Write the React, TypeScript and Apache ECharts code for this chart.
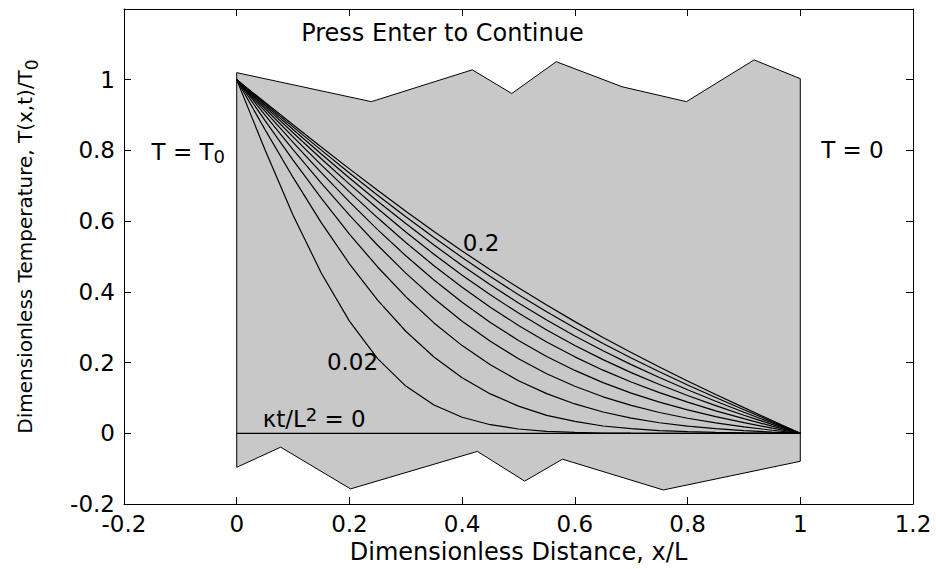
import React, { useEffect, useRef } from "react";
import * as echarts from "echarts";

// Dimensionless distance x/L sample positions
const xPositions = [0, 0.05, 0.1, 0.15, 0.2, 0.25, 0.3, 0.35, 0.4, 0.45, 0.5, 0.55, 0.6, 0.65, 0.7, 0.75, 0.8, 0.85, 0.9, 0.95, 1];

// Time labels kt/L^2 for each profile
const timeValues = ["0", "0.02", "0.04", "0.06", "0.08", "0.1", "0.12", "0.14", "0.16", "0.18", "0.2"];

// Temperature profiles T(x,t)/T0
const curveT000 = [0, 0, 0, 0, 0, 0, 0, 0, 0, 0, 0, 0, 0, 0, 0, 0, 0, 0, 0, 0, 0];
const curveT002 = [1, 0.8026, 0.617, 0.4536, 0.3173, 0.2113, 0.1337, 0.0801, 0.0455, 0.0245, 0.0124, 0.0059, 0.0027, 0.0011, 0.0005, 0.0002, 0.0001, 0, 0, 0, 0];
const curveT004 = [1, 0.8597, 0.7237, 0.5959, 0.4795, 0.3768, 0.2888, 0.2159, 0.1573, 0.1116, 0.0771, 0.0509, 0.0339, 0.0208, 0.0133, 0.008, 0.0047, 0.0026, 0.0014, 0.0006, 0];
const curveT006 = [1, 0.8853, 0.7728, 0.665, 0.5637, 0.4705, 0.3865, 0.3123, 0.2482, 0.1939, 0.1489, 0.1123, 0.0832, 0.0605, 0.0431, 0.0301, 0.0204, 0.0132, 0.0079, 0.0037, 0];
const curveT008 = [1, 0.9005, 0.8026, 0.7077, 0.6171, 0.532, 0.4532, 0.3815, 0.3172, 0.2605, 0.2111, 0.1688, 0.1331, 0.1034, 0.079, 0.059, 0.0428, 0.0295, 0.0185, 0.0089, 0];
const curveT010 = [1, 0.911, 0.823, 0.7373, 0.6547, 0.5761, 0.5022, 0.4336, 0.3707, 0.3138, 0.2628, 0.2176, 0.178, 0.1436, 0.1139, 0.0883, 0.0663, 0.0472, 0.0303, 0.0148, 0];
const curveT012 = [1, 0.9187, 0.8382, 0.7593, 0.6829, 0.6095, 0.5398, 0.4742, 0.4131, 0.3568, 0.3052, 0.2585, 0.2164, 0.1787, 0.1451, 0.1151, 0.0882, 0.0638, 0.0415, 0.0204, 0];
const curveT014 = [1, 0.9246, 0.8499, 0.7764, 0.7048, 0.6357, 0.5695, 0.5065, 0.4472, 0.3917, 0.3401, 0.2925, 0.2487, 0.2086, 0.1719, 0.1382, 0.1072, 0.0784, 0.0513, 0.0254, 0];
const curveT016 = [1, 0.9293, 0.8591, 0.79, 0.7223, 0.6566, 0.5933, 0.5326, 0.4748, 0.4202, 0.3688, 0.3206, 0.2755, 0.2335, 0.1944, 0.1578, 0.1234, 0.0909, 0.0598, 0.0297, 0];
const curveT018 = [1, 0.9331, 0.8666, 0.8009, 0.7364, 0.6736, 0.6126, 0.5538, 0.4974, 0.4435, 0.3923, 0.3437, 0.2977, 0.2542, 0.2131, 0.1741, 0.1369, 0.1013, 0.0669, 0.0332, 0];
const curveT020 = [1, 0.9361, 0.8726, 0.8098, 0.7479, 0.6874, 0.6283, 0.5711, 0.5158, 0.4626, 0.4116, 0.3627, 0.316, 0.2713, 0.2286, 0.1876, 0.1481, 0.1099, 0.0728, 0.0362, 0];

const curves = [curveT000, curveT002, curveT004, curveT006, curveT008, curveT010, curveT012, curveT014, curveT016, curveT018, curveT020];

// Gray slab outline (jagged top and bottom edges)
const slabX = [0, 0.239, 0.418, 0.488, 0.567, 0.684, 0.798, 0.918, 1, 1, 0.757, 0.578, 0.511, 0.427, 0.202, 0.078, 0];
const slabY = [1.02, 0.938, 1.028, 0.961, 1.051, 0.98, 0.938, 1.056, 1.003, -0.079, -0.16, -0.073, -0.135, -0.051, -0.157, -0.039, -0.096];

// Text annotations (data coordinates)
const noteTexts = ["Press Enter to Continue", "T = T{sub|0}", "T = 0", "0.2", "0.02", "κt/L{sup|2} = 0"];
const noteX = [0.365, -0.151, 1.037, 0.401, 0.16, 0.046];
const noteY = [1.132, 0.797, 0.8, 0.539, 0.202, 0.04];

// Axis ticks
const axisMin = -0.2;
const axisMax = 1.2;
const axisStep = 0.2;

const FONT = '"DejaVu Sans", sans-serif';

export default function App() {
  const ref = useRef<HTMLDivElement>(null);

  useEffect(() => {
    const chart = echarts.init(ref.current!, null, { renderer: "svg" });
    const fmt = (v: number) => String(Math.round(v * 10) / 10);
    const line = { show: true, onZero: false, lineStyle: { color: "#000", width: 1 } };
    const tick = { show: true, inside: true, length: 7, lineStyle: { color: "#000", width: 1 } };

    const lineSeries = curves.map((vals, k) => ({
      type: "line",
      name: timeValues[k],
      data: xPositions.map((x, i) => [x, vals[i]]),
      symbol: "none",
      smooth: false,
      lineStyle: { color: "#000", width: 1.2 },
      silent: true,
      z: 2,
    }));

    chart.setOption({
      animation: false,
      backgroundColor: "#fff",
      grid: { left: 124, right: 23, top: 9, bottom: 63, containLabel: false },
      xAxis: [
        {
          type: "value",
          min: axisMin,
          max: axisMax,
          interval: axisStep,
          position: "bottom",
          axisLine: line,
          axisTick: tick,
          splitLine: { show: false },
          axisLabel: { color: "#000", fontSize: 23, fontFamily: FONT, margin: 8, formatter: fmt },
          name: "Dimensionless Distance, x/L",
          nameLocation: "middle",
          nameGap: 33,
          nameTextStyle: { color: "#000", fontSize: 24, fontFamily: FONT },
        },
        {
          type: "value",
          min: axisMin,
          max: axisMax,
          interval: axisStep,
          position: "top",
          axisLine: line,
          axisTick: tick,
          splitLine: { show: false },
          axisLabel: { show: false },
        },
      ],
      yAxis: [
        {
          type: "value",
          min: axisMin,
          max: axisMax,
          interval: axisStep,
          position: "left",
          axisLine: line,
          axisTick: tick,
          splitLine: { show: false },
          axisLabel: {
            color: "#000",
            fontSize: 23,
            fontFamily: FONT,
            margin: 9,
            formatter: (v: number) => (Math.abs(v - axisMax) < 1e-6 ? "" : fmt(v)),
          },
          name: "Dimensionless Temperature, T(x,t)/T{sub|0}",
          nameLocation: "middle",
          nameRotate: 90,
          nameGap: 84,
          nameTextStyle: {
            color: "#000",
            fontSize: 20,
            fontFamily: FONT,
            lineHeight: 30,
            padding: [0, 0, 0, 20],
            rich: { sub: { fontSize: 17, lineHeight: 14, verticalAlign: "bottom", fontFamily: FONT, color: "#000" } },
          },
        },
        {
          type: "value",
          min: axisMin,
          max: axisMax,
          interval: axisStep,
          position: "right",
          axisLine: line,
          axisTick: tick,
          splitLine: { show: false },
          axisLabel: { show: false },
        },
      ],
      series: [
        {
          type: "custom",
          coordinateSystem: "cartesian2d",
          xAxisIndex: 0,
          yAxisIndex: 0,
          data: slabX.map((x, i) => [x, slabY[i]]),
          renderItem: (params: any, api: any) => {
            if (params.dataIndex !== 0) return null;
            const pts = slabX.map((x, i) => api.coord([x, slabY[i]]));
            return {
              type: "polygon",
              shape: { points: pts },
              style: { fill: "#c8c8c8", stroke: "#000", lineWidth: 1 },
            };
          },
          silent: true,
          z: 1,
        },
        ...lineSeries,
        {
          type: "custom",
          coordinateSystem: "cartesian2d",
          xAxisIndex: 0,
          yAxisIndex: 0,
          data: noteX.map((x, i) => [x, noteY[i]]),
          renderItem: (params: any, api: any) => {
            const i = params.dataIndex;
            const p = api.coord([noteX[i], noteY[i]]);
            return {
              type: "text",
              x: p[0],
              y: p[1],
              style: {
                text: noteTexts[i],
                fill: "#000",
                fontSize: i === 0 ? 24 : 23,
                fontFamily: FONT,
                lineHeight: 28,
                align: i === 0 ? "center" : "left",
                verticalAlign: "middle",
                rich: {
                  sub: { fontSize: 18, lineHeight: 18, verticalAlign: "bottom", fontFamily: FONT, fill: "#000" },
                  sup: { fontSize: 18, lineHeight: 18, verticalAlign: "top", fontFamily: FONT, fill: "#000" },
                },
              },
            };
          },
          silent: true,
          z: 5,
        },
      ],
    });

    return () => chart.dispose();
  }, []);

  return <div ref={ref} style={{ position: "absolute", left: 0, top: 0, width: 936, height: 569 }} />;
}
